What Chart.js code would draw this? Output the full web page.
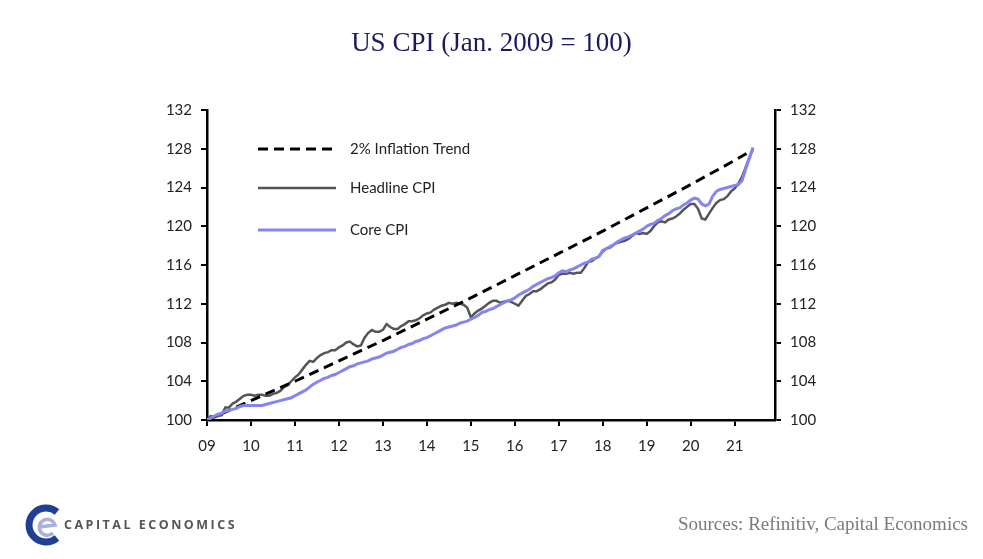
<!DOCTYPE html>
<html>
<head>
<meta charset="utf-8">
<script src="https://cdn.jsdelivr.net/npm/chart.js@4/dist/chart.umd.min.js"></script>
<style>
  body { margin: 0; background: #fff; }
  #wrap { position: relative; width: 983px; height: 559px; overflow: hidden; }
  #title {
    position: absolute; left: 0; width: 983px; top: 27px; text-align: center;
    font-family: 'Liberation Serif', serif; font-size: 27px; color: #1b1b5c;
  }
  #logo { position: absolute; left: 24px; top: 503px; }
  #brand {
    position: absolute; left: 64px; top: 516px; font-family: 'Open Sans', sans-serif;
    font-size: 12.5px; font-weight: 700; letter-spacing: 2.5px; color: #555;
  }
  #source {
    position: absolute; right: 15px; top: 513px; font-family: 'Liberation Serif', serif;
    font-size: 19px; color: #7a7a7a;
  }
</style>
</head>
<body>
<div id="wrap">
  <canvas id="cpi" width="983" height="559"></canvas>
  <div id="title">US CPI (Jan. 2009 = 100)</div>
  <svg id="logo" width="40" height="44" viewBox="0 0 40 44">
    <path d="M33 9 A17 17 0 1 0 33 35" fill="none" stroke="#1f3f95" stroke-width="7"/>
    <path d="M15 24 L31 22 A8 8 0 1 0 29 30" fill="none" stroke="#a7b1dd" stroke-width="3.5"/>
  </svg>
  <div id="brand">CAPITAL ECONOMICS</div>
  <div id="source">Sources: Refinitiv, Capital Economics</div>
</div>
<script>
// month index 0 = Jan 2009, 149 = Jun 2021
const yearTicks = ['09', '10', '11', '12', '13', '14', '15', '16', '17', '18', '19', '20', '21'];

const headline = [
  100.0, 100.4, 100.3, 100.4, 100.5, 101.3, 101.3, 101.7, 101.9, 102.2, 102.5, 102.6,
  102.6, 102.5, 102.6, 102.6, 102.5, 102.5, 102.7, 102.8, 103.0, 103.4, 103.6, 104.0,
  104.4, 104.7, 105.2, 105.7, 106.1, 106.0, 106.4, 106.7, 106.9, 107.0, 107.2, 107.2,
  107.5, 107.7, 108.0, 108.1, 107.8, 107.6, 107.7, 108.5, 109.0, 109.3, 109.1, 109.1,
  109.3, 109.9, 109.6, 109.4, 109.4, 109.7, 109.9, 110.2, 110.2, 110.3, 110.5, 110.8,
  111.0, 111.1, 111.4, 111.6, 111.8, 111.9, 112.1, 112.0, 112.1, 112.0, 111.9, 111.6,
  110.6, 111.0, 111.3, 111.5, 111.8, 112.1, 112.3, 112.3, 112.1, 112.2, 112.3, 112.2,
  112.0, 111.8, 112.3, 112.8, 113.0, 113.3, 113.3, 113.5, 113.8, 114.1, 114.2, 114.5,
  115.0, 115.1, 115.1, 115.2, 115.1, 115.2, 115.2, 115.7, 116.3, 116.4, 116.7, 116.9,
  117.4, 117.7, 117.8, 118.1, 118.3, 118.4, 118.5, 118.7, 119.0, 119.3, 119.2, 119.3,
  119.2, 119.5, 120.0, 120.4, 120.5, 120.4, 120.7, 120.8, 121.0, 121.3, 121.7, 122.0,
  122.3, 122.3, 121.8, 120.8, 120.7, 121.3, 121.9, 122.4, 122.7, 122.8, 123.1, 123.6,
  123.9, 124.4, 125.1, 126.1, 127.1, 128.1
];

const core = [
  100.0, 100.2, 100.4, 100.6, 100.7, 100.9, 101.0, 101.1, 101.2, 101.4, 101.5, 101.5,
  101.5, 101.5, 101.5, 101.5, 101.6, 101.7, 101.8, 101.9, 102.0, 102.1, 102.2, 102.3,
  102.5, 102.7, 102.9, 103.1, 103.4, 103.7, 103.9, 104.1, 104.3, 104.4, 104.6, 104.7,
  104.9, 105.1, 105.3, 105.5, 105.6, 105.8, 105.9, 106.0, 106.1, 106.3, 106.4, 106.5,
  106.7, 106.9, 107.0, 107.1, 107.3, 107.5, 107.6, 107.8, 107.9, 108.1, 108.2, 108.4,
  108.5, 108.7, 108.9, 109.1, 109.3, 109.5, 109.6, 109.7, 109.8, 110.0, 110.1, 110.2,
  110.4, 110.6, 110.8, 111.1, 111.2, 111.4, 111.5, 111.7, 111.9, 112.1, 112.3, 112.4,
  112.6, 112.9, 113.1, 113.3, 113.5, 113.8, 114.0, 114.2, 114.4, 114.6, 114.7, 114.9,
  115.2, 115.4, 115.3, 115.5, 115.6, 115.8, 116.0, 116.2, 116.3, 116.6, 116.7, 116.9,
  117.5, 117.7, 117.9, 118.1, 118.4, 118.6, 118.8, 118.9, 119.1, 119.3, 119.5, 119.7,
  120.0, 120.2, 120.3, 120.6, 120.8, 121.1, 121.3, 121.6, 121.8, 121.9, 122.2, 122.4,
  122.7, 122.9, 122.8, 122.3, 122.1, 122.3, 123.1, 123.6, 123.8, 123.9, 124.0, 124.1,
  124.2, 124.3, 124.7, 125.9, 127.0, 128.1
];

// 2% trend, read at each January plus the last month
const trendMonths = [0, 12, 24, 36, 48, 60, 72, 84, 96, 108, 120, 132, 144, 149];
const trendValues = [100.0, 102.0, 104.0, 106.1, 108.2, 110.4, 112.6, 114.9, 117.2, 119.5, 121.9, 124.3, 126.8, 127.9];

const seriesNames = ['2% Inflation Trend', 'Headline CPI', 'Core CPI'];

const tickFont = { family: 'Lato', size: 15 };

// legend drawn inside the plot, like the original
const innerLegend = {
  id: 'innerLegend',
  afterDraw(chart) {
    const ctx = chart.ctx;
    const rows = [149, 188, 230];
    ctx.save();
    chart.data.datasets.forEach((ds, i) => {
      ctx.beginPath();
      ctx.setLineDash(ds.borderDash || []);
      ctx.strokeStyle = ds.borderColor;
      ctx.lineWidth = ds.borderWidth;
      ctx.moveTo(258, rows[i]);
      ctx.lineTo(336, rows[i]);
      ctx.stroke();
      ctx.setLineDash([]);
      ctx.fillStyle = '#222';
      ctx.font = '15px Lato';
      ctx.textBaseline = 'middle';
      ctx.fillText(ds.label, 350, rows[i]);
    });
    ctx.restore();
  }
};

const axisGrid = { drawOnChartArea: false, drawTicks: true, tickLength: 6, color: '#000', lineWidth: 2 };

new Chart(document.getElementById('cpi'), {
  type: 'line',
  data: {
    datasets: [
      {
        label: seriesNames[0],
        data: trendValues.map((v, i) => ({ x: trendMonths[i], y: v })),
        borderColor: '#000',
        borderWidth: 3,
        borderDash: [10, 6],
        order: 1
      },
      {
        label: seriesNames[1],
        data: headline.map((v, i) => ({ x: i, y: v })),
        borderColor: '#555555',
        borderWidth: 2.5,
        order: 2
      },
      {
        label: seriesNames[2],
        data: core.map((v, i) => ({ x: i, y: v })),
        borderColor: '#8585f2',
        borderWidth: 3,
        order: 0
      }
    ]
  },
  options: {
    responsive: false,
    animation: false,
    layout: { padding: { top: 110, bottom: 99, left: 0, right: 0 } },
    elements: { point: { radius: 0 }, line: { tension: 0 } },
    plugins: { legend: { display: false }, tooltip: { enabled: false } },
    scales: {
      x: {
        type: 'linear',
        min: 0,
        max: 155,
        grid: axisGrid,
        border: { color: '#000', width: 2.5 },
        ticks: {
          stepSize: 12,
          includeBounds: false,
          color: '#222',
          font: tickFont,
          padding: 11,
          maxRotation: 0,
          callback: v => yearTicks[v / 12]
        },
        afterFit: s => { s.height = 40; }
      },
      y: {
        position: 'left',
        min: 100,
        max: 132,
        grid: axisGrid,
        border: { color: '#000', width: 2.5 },
        ticks: { stepSize: 4, color: '#222', font: tickFont, padding: 9 },
        afterFit: s => { s.width = 207; }
      },
      y2: {
        position: 'right',
        min: 100,
        max: 132,
        grid: axisGrid,
        border: { color: '#000', width: 2.5 },
        ticks: { stepSize: 4, color: '#222', font: tickFont, padding: 9 },
        afterFit: s => { s.width = 208; }
      }
    }
  },
  plugins: [innerLegend]
});
</script>
</body>
</html>
